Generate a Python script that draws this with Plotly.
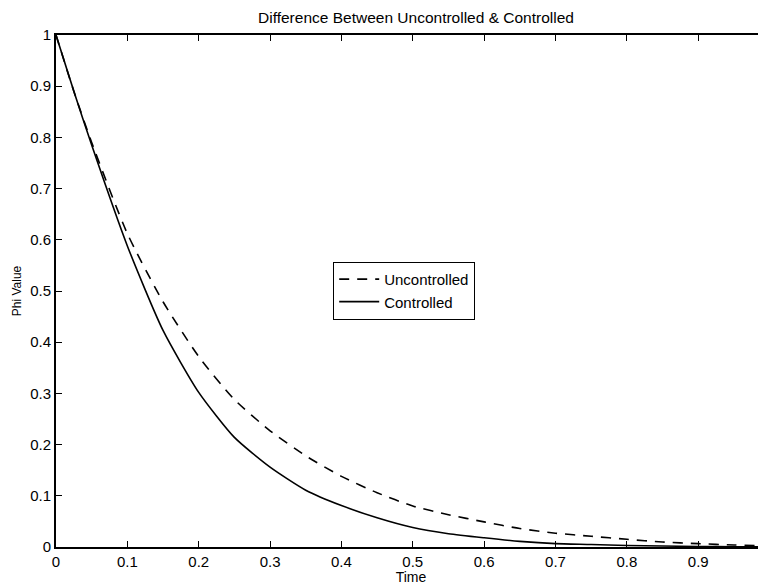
import plotly.graph_objects as go

# Data
time = [0.0, 0.025, 0.05, 0.1, 0.15, 0.2, 0.25, 0.3, 0.35, 0.4, 0.45, 0.5,
        0.55, 0.6, 0.65, 0.7, 0.75, 0.8, 0.85, 0.9, 0.95, 1.0]
uncontrolled = [1.0, 0.89, 0.79, 0.612, 0.479, 0.372, 0.288, 0.227, 0.178, 0.138, 0.106, 0.08,
                0.063, 0.049, 0.036, 0.027, 0.021, 0.015, 0.0097, 0.0065, 0.004, 0.002]
controlled = [1.0, 0.89, 0.785, 0.588, 0.423, 0.302, 0.214, 0.156, 0.111, 0.081, 0.057, 0.038,
              0.026, 0.018, 0.011, 0.0065, 0.005, 0.003, 0.002, 0.001, 0.0005, 0.0003]

x_ticks = [0, 0.1, 0.2, 0.3, 0.4, 0.5, 0.6, 0.7, 0.8, 0.9]
x_tick_labels = ["0", "0.1", "0.2", "0.3", "0.4", "0.5", "0.6", "0.7", "0.8", "0.9"]
y_ticks = [0, 0.1, 0.2, 0.3, 0.4, 0.5, 0.6, 0.7, 0.8, 0.9, 1]
y_tick_labels = ["0", "0.1", "0.2", "0.3", "0.4", "0.5", "0.6", "0.7", "0.8", "0.9", "1"]

FONT = "Liberation Sans, Arial, Helvetica, sans-serif"

# The page body has an 8px margin, so the figure is sized to fit the window.
W, H = 758, 577

fig = go.Figure()
fig.add_trace(go.Scatter(
    x=time, y=uncontrolled, mode="lines", name="Uncontrolled",
    line=dict(color="black", width=1.6, dash="10px,8px", shape="spline", smoothing=0.6),
))
fig.add_trace(go.Scatter(
    x=time, y=controlled, mode="lines", name="Controlled",
    line=dict(color="black", width=1.6, shape="spline", smoothing=0.6),
))

fig.update_layout(
    width=W, height=H,
    margin=dict(l=48, r=0, t=27, b=38, pad=0),
    paper_bgcolor="white", plot_bgcolor="white",
    font=dict(family=FONT, size=15, color="black"),
    title=dict(text="Difference Between Uncontrolled & Controlled",
               x=408 / W, xanchor="center", xref="container",
               y=1 - 10 / H, yanchor="middle", yref="container",
               font=dict(size=15.5, family=FONT, color="black")),
    showlegend=True,
    legend=dict(x=(325 - 48) / 710, y=(538.5 - 253.5) / 511.5, xanchor="left", yanchor="top",
                bgcolor="white", bordercolor="black", borderwidth=1.2,
                font=dict(size=15, family=FONT, color="black"),
                tracegroupgap=0, itemwidth=40),
    xaxis=dict(range=[0, 0.995], tickvals=x_ticks, ticktext=x_tick_labels,
               ticks="inside", ticklen=6, tickwidth=1.3, tickcolor="black",
               showline=True, linecolor="black", linewidth=1.8, mirror="ticks",
               showgrid=False, zeroline=False,
               title=dict(text="Time", font=dict(size=14, family=FONT), standoff=0),
               tickfont=dict(size=15, family=FONT)),
    yaxis=dict(range=[0, 1], tickvals=y_ticks, ticktext=y_tick_labels,
               ticks="inside", ticklen=6, tickwidth=1.3, tickcolor="black",
               showline=True, linecolor="black", linewidth=1.8, mirror=False,
               showgrid=False, zeroline=False,
               title=dict(text="Phi Value", font=dict(size=12, family=FONT), standoff=6),
               tickfont=dict(size=15, family=FONT)),
)

fig.write_html("out.html")
